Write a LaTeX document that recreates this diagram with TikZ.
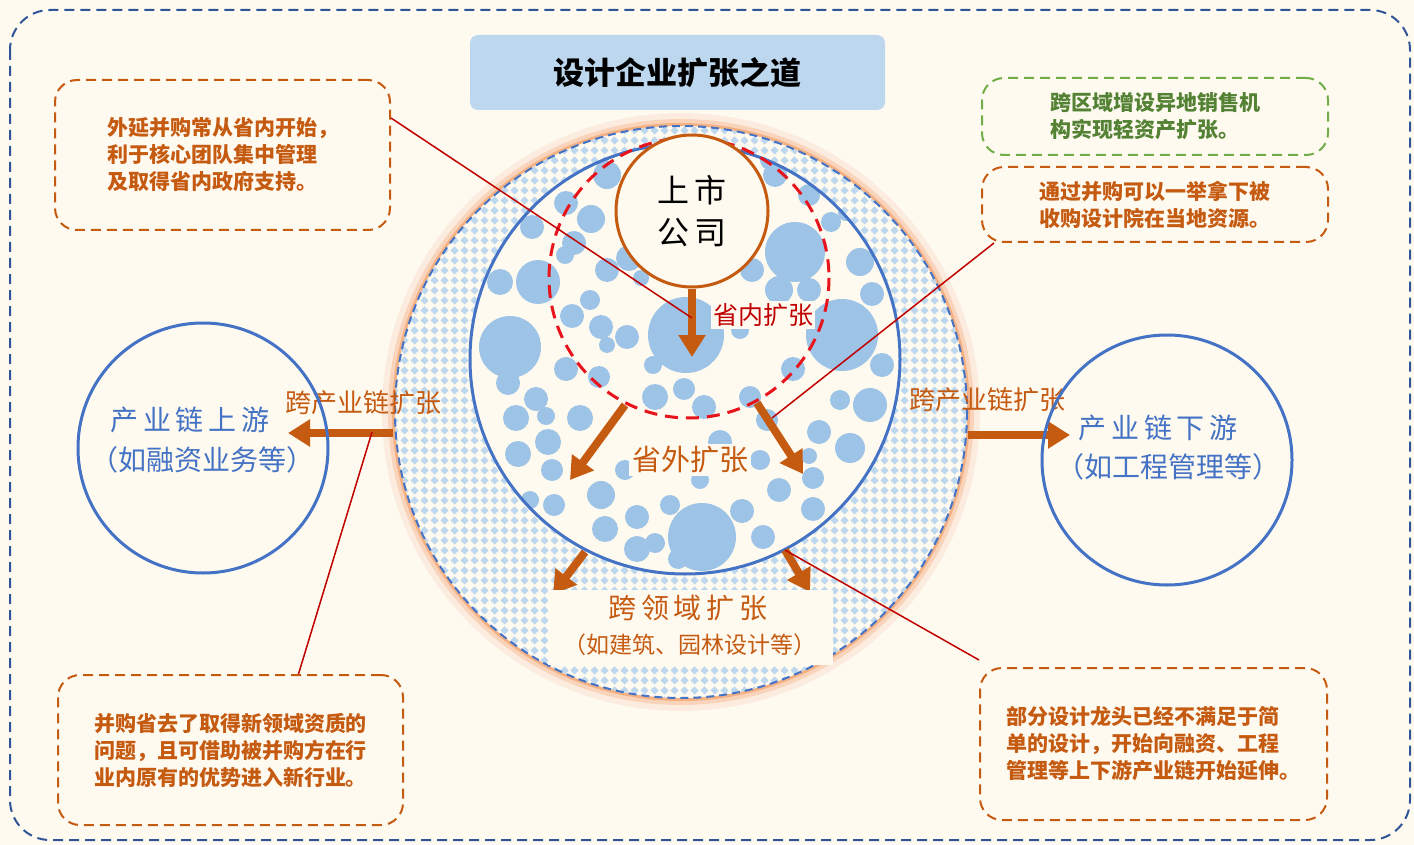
\documentclass[tikz,border=0pt]{standalone}
\usepackage{fontspec}
\setmainfont{Noto Sans CJK SC}
\usetikzlibrary{arrows.meta,patterns}
\definecolor{bgc}{HTML}{FFFAF0}
\definecolor{frame}{HTML}{2F5597}
\definecolor{titlec}{HTML}{BDD7EE}
\definecolor{brn}{HTML}{C55A11}
\definecolor{dred}{HTML}{C00000}
\definecolor{rred}{HTML}{E8141C}
\definecolor{blu}{HTML}{4472C4}
\definecolor{bub}{HTML}{9DC3E6}
\definecolor{grnb}{HTML}{70AD47}
\definecolor{grnt}{HTML}{548235}
\definecolor{patc}{HTML}{BDD7EE}
\definecolor{glow}{HTML}{F4B183}
\pgfdeclarepatternformonly{mydiamonds}{\pgfpointorigin}{\pgfqpoint{10pt}{10pt}}{\pgfqpoint{10pt}{10pt}}{%
  \pgfpathmoveto{\pgfqpoint{5pt}{0.5pt}}\pgfpathlineto{\pgfqpoint{9.5pt}{5pt}}\pgfpathlineto{\pgfqpoint{5pt}{9.5pt}}\pgfpathlineto{\pgfqpoint{0.5pt}{5pt}}\pgfpathclose
  \pgfusepath{fill}}
\tikzset{
  callout/.style={draw=brn, line width=2pt, dash pattern=on 10pt off 6pt, rounded corners=22pt,
    text=brn, font=\bfseries\fontsize{21pt}{27pt}\selectfont, align=left, inner sep=0pt},
  bigarrow/.style={draw=brn, line width=8pt, -{Triangle[length=22pt,width=26pt]}},
  leader/.style={draw=dred, line width=1.5pt},
  sidecircle/.style={circle, draw=blu, line width=3pt, minimum size=250pt, inner sep=0pt},
  bluetext/.style={text=blu, font=\fontsize{28pt}{34pt}\selectfont},
  brntext/.style={text=brn, font=\fontsize{26pt}{32pt}\selectfont},
}
\begin{document}
\begin{tikzpicture}[x=1pt,y=-1pt]
\useasboundingbox (0,0) rectangle (1414,845);
\fill[bgc] (0,0) rectangle (1414,845);
\draw[frame, line width=2pt, dash pattern=on 10pt off 6pt, rounded corners=40pt] (10,10) rectangle (1410,840);

% title
\node[fill=titlec, rounded corners=8pt, minimum width=415pt, minimum height=75pt, font=\bfseries\fontsize{31pt}{36pt}\selectfont] (title) at (677.5,72.5) {设计企业扩张之道};

% outer circle with glow
\draw[glow!25, line width=14pt] (681,412) circle (292);
\draw[glow!55, line width=8pt] (681,412) circle (289);
\draw[glow, line width=4pt] (681,412) circle (287);
\fill[bgc] (681,412) circle (286);
\fill[pattern=mydiamonds, pattern color=patc] (681,412) circle (286);
\draw[blu, line width=2pt, dash pattern=on 8pt off 5pt] (681,412) circle (286);

% inner circle
\fill[bgc] (685,359) circle (215);
\begin{scope}
\clip (685,359) circle (215);
\foreach \x/\y/\r in {510/347/31, 538/282/22, 686/335/38, 795/252/30, 842/335/36, 702/537/34,
500/282/13, 532/227/12, 566/203/12, 591/219/14, 574/243/12, 607/270/12, 629/258/13, 572/316/12,
601/327/12, 627/337/12, 607/345/8, 566/369/12, 599/377/11, 508/383/12, 536/399/12, 516/418/13,
546/416/9, 580/418/13, 548/442/13, 518/454/13, 552/470/11, 554/505/11, 601/495/14, 605/529/13,
637/517/12, 637/549/13, 655/543/10, 678/559/10, 655/397/13, 684/389/11, 704/407/12, 720/442/12,
750/397/11, 767/420/11, 742/511/12, 763/537/12, 779/490/12, 809/456/8, 813/478/11, 813/509/12,
819/432/12, 850/448/15, 870/405/17, 882/365/12, 793/369/12, 860/262/14, 872/294/12, 779/290/14,
809/290/12, 752/270/12, 775/175/12, 809/195/11, 607/175/14, 641/278/8, 653/365/9, 600/155/10,
565/255/9, 770/160/10, 831/222/10, 846/213/8, 590/300/10, 740/330/9, 760/460/10, 625/470/10,
700/480/9, 670/505/10, 840/400/10, 530/500/9}
  \fill[bub] (\x,\y) circle (\r);
\end{scope}
\draw[blu, line width=3pt] (685,359) circle (215);

% red dashed circle
\draw[rred, line width=3pt, dash pattern=on 13pt off 8pt] (689,278) circle (140);

% company
\node[circle, draw=brn, fill=bgc, line width=3pt, minimum size=152pt, inner sep=0pt, align=center,
  font=\fontsize{32pt}{42pt}\selectfont] (co) at (692,211) {上\,市\\公\,司};

% coordinates for arrows
\coordinate (a1e) at (692,357);
\coordinate (a2s) at (625,405); \coordinate (a2e) at (570,480);
\coordinate (a3s) at (757,403); \coordinate (a3e) at (803,474);
\coordinate (a4s) at (585,552); \coordinate (a4e) at (553,594);
\coordinate (a5s) at (785,550); \coordinate (a5e) at (810,592);
\coordinate (a6s) at (393,433); \coordinate (a6e) at (288,433);
\coordinate (a7s) at (968,435); \coordinate (a7e) at (1070,435);

\draw[bigarrow] (co.south) -- (a1e);
\draw[bigarrow] (a2s) -- (a2e);
\draw[bigarrow] (a3s) -- (a3e);
\draw[bigarrow] (a4s) -- (a4e);
\draw[bigarrow] (a5s) -- (a5e);
\draw[bigarrow] (a6s) -- (a6e);
\draw[bigarrow] (a7s) -- (a7e);

% labels
\node[fill=bgc, inner sep=2pt, text=dred, font=\fontsize{25pt}{28pt}\selectfont] (snl) at (763,315) {省内扩张};
\node[fill=bgc, inner sep=3pt, text=brn, font=\fontsize{29pt}{34pt}\selectfont] (swl) at (690,460) {省外扩张};
\fill[bgc] (548,590) rectangle (833,665);
\node[brntext, font=\fontsize{28pt}{34pt}\selectfont] (kly) at (688,608) {跨\,领\,域\,扩\,张};
\node[text=brn, font=\fontsize{23pt}{28pt}\selectfont] (kly2) at (690,645) {（如建筑、园林设计等）};
\node[text=brn, font=\fontsize{26pt}{30pt}\selectfont] (kcl) at (363,403) {跨产业链扩张};
\node[text=brn, font=\fontsize{26pt}{30pt}\selectfont] (kcr) at (987,400) {跨产业链扩张};

% side circles
\node[sidecircle] (lc) at (203,448) {};
\node[bluetext] (lct1) at (190,420) {产\,业\,链\,上\,游};
\node[bluetext] (lct2) at (202,460) {（如融资业务等）};
\node[sidecircle] (rc) at (1167,460) {};
\node[bluetext] (rct1) at (1158,428) {产\,业\,链\,下\,游};
\node[bluetext] (rct2) at (1168,467) {（如工程管理等）};

% callouts
\node[callout, minimum width=335pt, minimum height=150pt] (tl) at (222.5,155) {外延并购常从省内开始，\\利于核心团队集中管理\\及取得省内政府支持。};
\node[callout, draw=grnb, text=grnt, minimum width=346pt, minimum height=77pt] (gr) at (1155,116.5) {跨区域增设异地销售机\\构实现轻资产扩张。};
\node[callout, minimum width=346pt, minimum height=75pt] (orr) at (1155,204.5) {通过并购可以一举拿下被\\收购设计院在当地资源。};
\node[callout, minimum width=345pt, minimum height=150pt] (bl) at (230.5,750) {并购省去了取得新领域资质的\\问题，且可借助被并购方在行\\业内原有的优势进入新行业。};
\node[callout, minimum width=347pt, minimum height=152pt] (br) at (1153.5,744) {部分设计龙头已经不满足于简\\单的设计，开始向融资、工程\\管理等上下游产业链开始延伸。};

% leader lines
\coordinate (p1) at (692,318);
\coordinate (p2) at (772,418);
\coordinate (p3) at (372,432);
\coordinate (p4) at (785,550);
\draw[leader] ([yshift=37pt]tl.east) -- (p1);
\draw[leader] ([xshift=13pt]orr.south west) -- (p2);
\draw[leader] ([xshift=68pt]bl.north) -- (p3);
\draw[leader] ([yshift=7pt]br.north west) -- (p4);
\end{tikzpicture}
\end{document}
